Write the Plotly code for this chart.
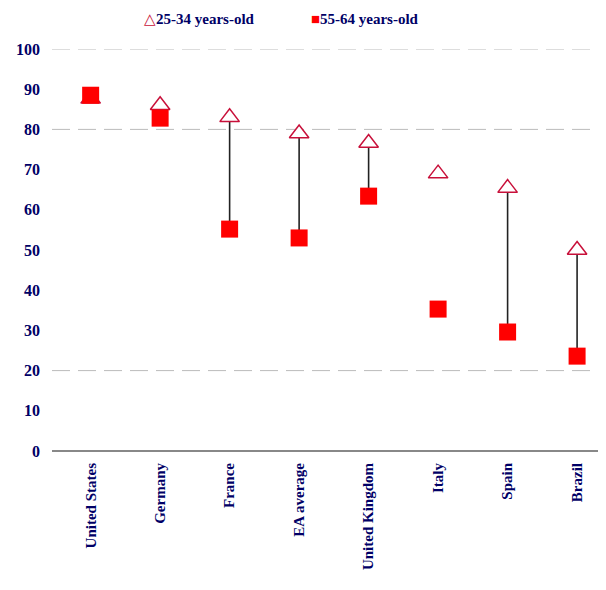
import plotly.graph_objects as go

countries = ["United States", "Germany", "France", "EA average",
             "United Kingdom", "Italy", "Spain", "Brazil"]
young = [87.6, 86.0, 83.0, 79.0, 76.6, 69.0, 65.4, 50.0]   # 25-34 years-old
older = [88.5, 82.8, 55.2, 53.0, 63.4, 35.3, 29.6, 23.6]   # 55-64 years-old
connector = [False, False, True, True, True, False, True, True]
grid_levels = [20, 80, 100]
y_ticks = list(range(0, 101, 10))
legend_labels = ["25-34 years-old", "55-64 years-old"]

NAVY = "#000066"
TRI = "#C8103A"
SQ = "#FF0000"
FONT = "Liberation Serif"
xs = list(range(len(countries)))

fig = go.Figure()

# connectors
lx, ly = [], []
for i, (a, b, c) in enumerate(zip(young, older, connector)):
    if c:
        lx += [i, i, None]
        ly += [a, b, None]
fig.add_trace(go.Scatter(x=lx, y=ly, mode="lines",
                         line=dict(color="#222222", width=1.6),
                         showlegend=False, hoverinfo="skip"))

fig.add_trace(go.Scatter(x=xs, y=young, mode="markers", name=legend_labels[0],
                         showlegend=False,
                         marker=dict(symbol="triangle-up", size=17, color="white",
                                     line=dict(color=TRI, width=1.5))))
fig.add_trace(go.Scatter(x=xs, y=older, mode="markers", name=legend_labels[1],
                         showlegend=False,
                         marker=dict(symbol="square", size=17, color=SQ,
                                     line=dict(width=0))))

for g in grid_levels:
    fig.add_hline(y=g, line=dict(color="#BBBBBB", width=1, dash="18px,8px"), layer="below")

# legend drawn as text
fig.add_annotation(xref="paper", yref="paper", x=0.163, y=1.075, xanchor="left",
                   yanchor="middle", showarrow=False,
                   text="<span style='color:%s'>△</span><b>%s</b>" % (TRI, legend_labels[0]),
                   font=dict(family=FONT, size=15, color=NAVY))
fig.add_annotation(xref="paper", yref="paper", x=0.463, y=1.075, xanchor="left",
                   yanchor="middle", showarrow=False,
                   text="<span style='color:%s'>■</span><b>%s</b>" % (SQ, legend_labels[1]),
                   font=dict(family=FONT, size=15, color=NAVY))

fig.update_layout(
    width=606, height=590,
    margin=dict(l=40, r=8, t=41, b=147),
    paper_bgcolor="white", plot_bgcolor="white",
    font=dict(family=FONT, color=NAVY, size=15),
    showlegend=False,
)

fig.update_xaxes(range=[-0.556, 7.416], tickmode="array", tickvals=xs,
                 ticktext=["<b>%s</b>" % c for c in countries],
                 tickangle=-90, showgrid=False, zeroline=False,
                 showline=False, ticks="", ticklabelstandoff=8,
                 tickfont=dict(family=FONT, size=15, color=NAVY))
fig.update_yaxes(range=[0, 100], tickmode="array", tickvals=y_ticks,
                 ticktext=["<b>%d</b>" % v for v in y_ticks],
                 showgrid=False, zeroline=True, zerolinecolor="#888888", zerolinewidth=1.5,
                 showline=False, ticks="", ticklabelstandoff=11,
                 tickfont=dict(family=FONT, size=16, color=NAVY))

fig.write_html("out.html")
